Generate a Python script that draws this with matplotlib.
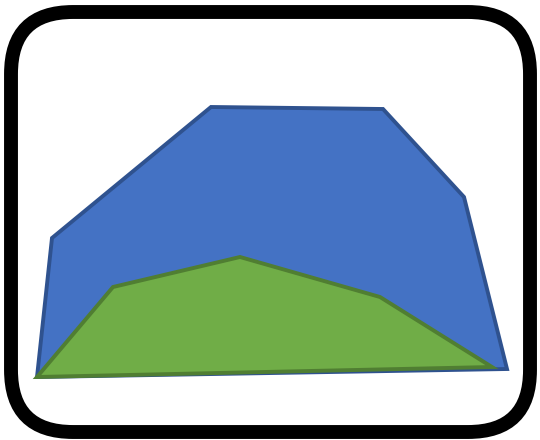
import matplotlib
matplotlib.use('Agg')
import matplotlib.pyplot as plt
from matplotlib.patches import FancyBboxPatch

# outline points of the two areas (pixel space, y down)
blue_x = [37, 52, 211, 383, 464, 507]
blue_y = [377, 238, 107, 109, 197, 369]
green_x = [37, 113, 240, 380, 492]
green_y = [377, 287, 257, 297, 367]

fig = plt.figure(figsize=(5.4, 4.4), dpi=100)
ax = fig.add_axes([0, 0, 1, 1])
ax.set_xlim(0, 540)
ax.set_ylim(440, 0)
ax.axis('off')

frame = FancyBboxPatch((11, 12), 519, 420, boxstyle="round,pad=0,rounding_size=62",
                       facecolor='white', edgecolor='black', linewidth=10)
ax.add_patch(frame)

ax.fill(blue_x, blue_y, facecolor='#4472C4', edgecolor='#2F528F', linewidth=2.8,
        joinstyle='miter')
ax.fill(green_x, green_y, facecolor='#70AD47', edgecolor='#507E32', linewidth=2.8,
        joinstyle='miter')

fig.savefig('out.png', dpi=100, facecolor='white')
